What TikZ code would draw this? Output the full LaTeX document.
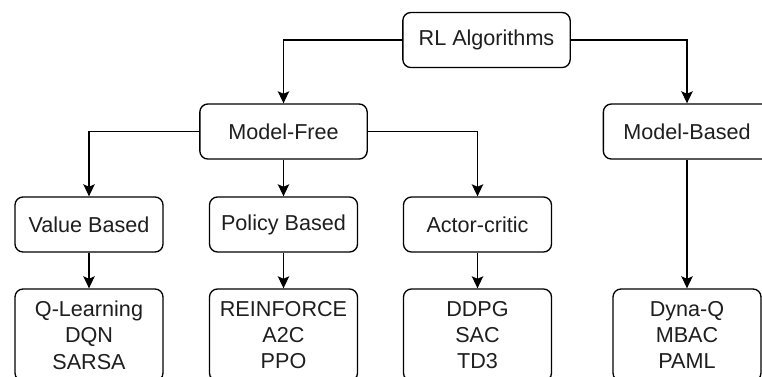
\documentclass[tikz,border=0pt]{standalone}
\usepackage{fontspec}
\setmainfont{Liberation Sans}
\usetikzlibrary{arrows.meta}
\definecolor{txt}{HTML}{1e1e1e}
\tikzset{
  box/.style={draw=black, line width=1pt, rounded corners=6pt, fill=white,
    text=txt, font=\fontsize{16.2}{19.8}\selectfont, align=center,
    minimum height=41.25pt, inner sep=0pt},
  wide/.style={minimum width=125.5pt},
  narrow/.style={minimum width=111pt},
  tall/.style={minimum height=69pt},
  link/.style={draw=black, line width=1.1pt,
    -{Stealth[length=9pt,width=8.5pt,inset=1.8pt]}}
}
\begin{document}
\begin{tikzpicture}[x=0.75pt,y=-0.75pt]
\clip (0,0) rectangle (762,376);
\fill[white] (0,0) rectangle (762,376);

% top level
\node[box,wide] (rl) at (486.5,40) {RL Algorithms};

% second level
\node[box,wide] (mf) at (283.5,131.5) {Model-Free};
\node[box,wide] (mb) at (687,131.5) {Model-Based};

% model-free families
\node[box,narrow] (vb) at (89,224.5) {Value Based};
\node[box,narrow] (pb) at (283.5,224.5) {Policy Based};
\node[box,narrow] (ac) at (477.5,224.5) {Actor-critic};

% algorithm lists
\node[box,narrow,tall] (ql) at (89,335) {Q-Learning\\DQN\\SARSA};
\node[box,narrow,tall] (rf) at (283.5,335) {REINFORCE\\A2C\\PPO};
\node[box,narrow,tall] (dd) at (477.5,335) {DDPG\\SAC\\TD3};
\node[box,narrow,tall] (dq) at (687,335) {Dyna-Q\\MBAC\\PAML};

% connectors
\draw[link] (rl.west) -| (mf.north);
\draw[link] (rl.east) -| (mb.north);
\draw[link] (mf.west) -| (vb.north);
\draw[link] (mf.south) -- (pb.north);
\draw[link] (mf.east) -| (ac.north);
\draw[link] (vb.south) -- (ql.north);
\draw[link] (pb.south) -- (rf.north);
\draw[link] (ac.south) -- (dd.north);
\draw[link] (mb.south) -- (dq.north);
\end{tikzpicture}
\end{document}
